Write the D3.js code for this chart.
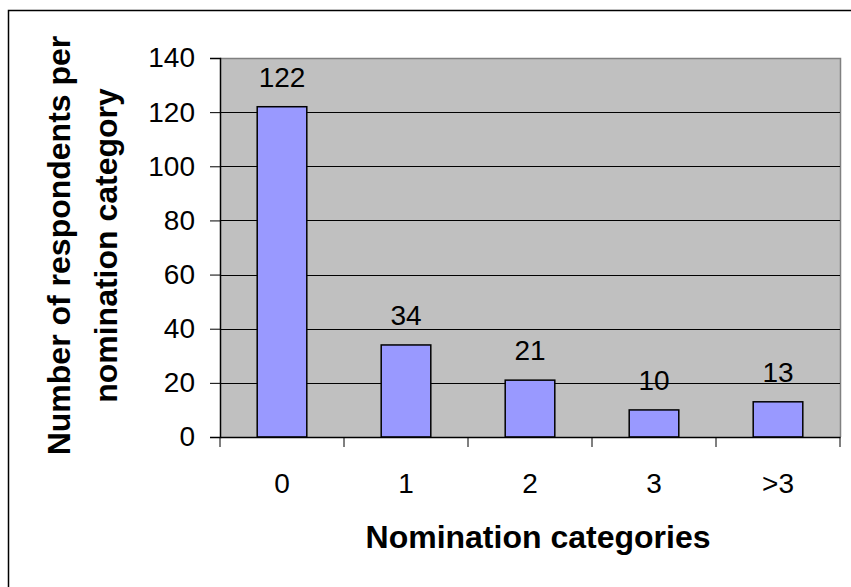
<!DOCTYPE html>
<meta charset="utf-8">
<body style="margin:0;background:#fff">
<svg width="851" height="587"></svg>
<script src="https://cdn.jsdelivr.net/npm/d3@7"></script>
<script>
  // data
  const categories = ["0", "1", "2", "3", ">3"];
  const respondents = [122, 34, 21, 10, 13];
  const yTicks = [0, 20, 40, 60, 80, 100, 120, 140];
  const yTitle = ["Number of respondents per", "nomination category"];
  const xTitle = "Nomination categories";

  const svg = d3.select("svg");
  const font = "Liberation Sans, Arial, sans-serif";

  // outer chart frame (right and bottom edges run off the picture)
  svg.append("rect")
    .attr("x", 8.5).attr("y", 10.5)
    .attr("width", 900).attr("height", 700)
    .attr("fill", "none").attr("stroke", "#000").attr("stroke-width", 1.5);

  const plot = { left: 220, right: 840, top: 58, bottom: 437 };

  const x = d3.scaleBand().domain(categories).range([plot.left, plot.right]).paddingInner(0).paddingOuter(0);
  const y = d3.scaleLinear().domain([0, 140]).range([plot.bottom, plot.top]);
  const barW = x.bandwidth() * 0.4;

  // plot background
  svg.append("rect")
    .attr("x", plot.left).attr("y", plot.top)
    .attr("width", plot.right - plot.left).attr("height", plot.bottom - plot.top)
    .attr("fill", "#c0c0c0");
  // grey top/right frame
  svg.append("path")
    .attr("d", `M${plot.left},${plot.top + 0.5}H${plot.right + 0.5}V${plot.bottom}`)
    .attr("fill", "none").attr("stroke", "#808080").attr("stroke-width", 1.5);

  // gridlines
  svg.append("g").selectAll("line")
    .data(yTicks.filter(d => d > 0 && d < 140))
    .join("line")
    .attr("x1", plot.left).attr("x2", plot.right)
    .attr("y1", d => Math.round(y(d)) + 0.5).attr("y2", d => Math.round(y(d)) + 0.5)
    .attr("stroke", "#000").attr("stroke-width", 1);

  // bars
  svg.append("g").selectAll("rect")
    .data(respondents)
    .join("rect")
    .attr("x", (d, i) => x(categories[i]) + (x.bandwidth() - barW) / 2)
    .attr("y", d => y(d))
    .attr("width", barW)
    .attr("height", d => y(0) - y(d))
    .attr("fill", "#9999ff").attr("stroke", "#000").attr("stroke-width", 1.5);

  // value labels
  svg.append("g").selectAll("text")
    .data(respondents)
    .join("text")
    .attr("x", (d, i) => x(categories[i]) + x.bandwidth() / 2)
    .attr("y", d => y(d) - 20)
    .attr("text-anchor", "middle")
    .attr("font-family", font).attr("font-size", 28)
    .text(d => d);

  // y axis
  const yAxis = svg.append("g")
    .attr("transform", `translate(${plot.left},0)`)
    .call(d3.axisLeft(y).tickValues(yTicks).tickSize(10).tickPadding(15));
  yAxis.select(".domain").attr("stroke", "#000").attr("stroke-width", 1.5);
  yAxis.selectAll(".tick line").attr("stroke", "#000");
  yAxis.selectAll("text").attr("font-family", font).attr("font-size", 28).attr("fill", "#000");

  // x axis
  const xAxis = svg.append("g")
    .attr("transform", `translate(0,${plot.bottom})`)
    .call(d3.axisBottom(x).tickSize(0).tickPadding(36));
  xAxis.select(".domain").attr("stroke", "#000").attr("stroke-width", 1.5);
  xAxis.selectAll("text").attr("font-family", font).attr("font-size", 28).attr("fill", "#000");
  // tick marks between categories
  xAxis.selectAll(".sep")
    .data(categories.concat(["end"]))
    .join("line")
    .attr("x1", (d, i) => plot.left + i * x.step()).attr("x2", (d, i) => plot.left + i * x.step())
    .attr("y1", 0).attr("y2", 10)
    .attr("stroke", "#000");

  // axis titles
  svg.append("text")
    .attr("x", 538).attr("y", 548)
    .attr("text-anchor", "middle")
    .attr("font-family", font).attr("font-size", 32).attr("font-weight", "bold")
    .text(xTitle);

  svg.append("g")
    .attr("transform", `translate(0,${(plot.top + plot.bottom) / 2 - 2}) rotate(-90)`)
    .selectAll("text")
    .data(yTitle)
    .join("text")
    .attr("x", 0)
    .attr("y", (d, i) => 70 + i * 47)
    .attr("text-anchor", "middle")
    .attr("font-family", font).attr("font-size", 32).attr("font-weight", "bold")
    .text(d => d);
</script>
</body>
